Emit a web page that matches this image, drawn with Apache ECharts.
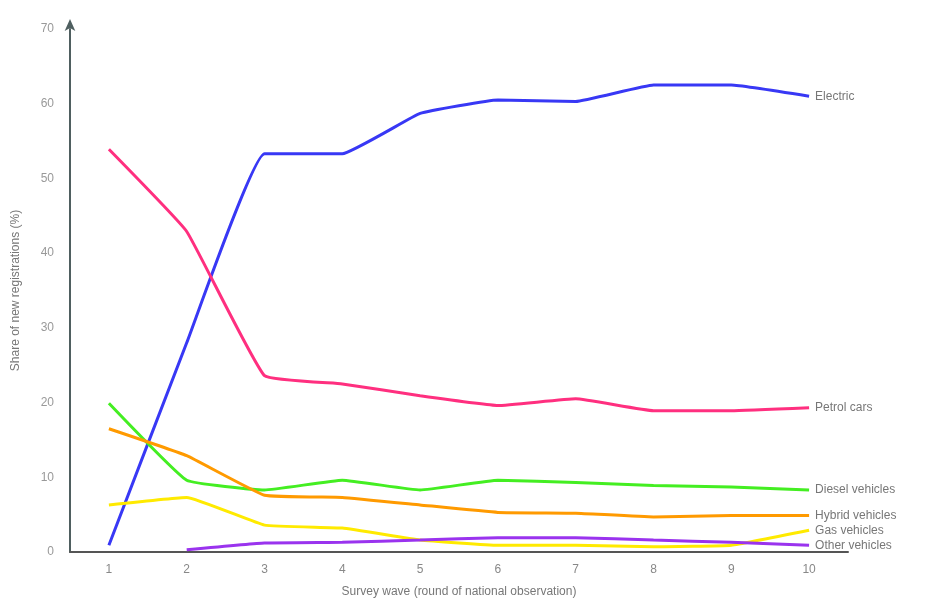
<!DOCTYPE html>
<html>
<head>
<meta charset="utf-8">
<script src="https://cdn.jsdelivr.net/npm/echarts@6/dist/echarts.min.js"></script>
<style>
html,body{margin:0;padding:0;background:#fff;}
#chart{width:942px;height:608px;}
</style>
</head>
<body>
<div id="chart"></div>
<script>
var categories = ['1', '2', '3', '4', '5', '6', '7', '8', '9', '10'];
var seriesNames = ['Electric', 'Petrol cars', 'Diesel vehicles', 'Hybrid vehicles', 'Gas vehicles', 'Other vehicles'];
var electric = [0.9, 28, 53.3, 53.3, 58.7, 60.5, 60.3, 62.5, 62.5, 61];
var petrol = [53.9, 42.9, 23.6, 22.5, 20.9, 19.6, 20.5, 18.9, 18.9, 19.3];
var diesel = [19.9, 9.6, 8.3, 9.6, 8.3, 9.6, 9.3, 8.9, 8.7, 8.3];
var hybrid = [16.5, 12.9, 7.6, 7.3, 6.3, 5.3, 5.2, 4.7, 4.9, 4.9];
var gas = [6.3, 7.3, 3.6, 3.2, 1.6, 0.9, 0.9, 0.7, 0.9, 2.9];
var other = [null, 0.3, 1.2, 1.3, 1.6, 1.9, 1.9, 1.6, 1.3, 0.9];
var colors = ['#3838f5', '#ff2f7f', '#44ee22', '#ff9a00', '#ffea00', '#9a33ee'];
var values = [electric, petrol, diesel, hybrid, gas, other];

var chart = echarts.init(document.getElementById('chart'));
chart.setOption({
  animation: false,
  grid: {left: 70, right: 94, top: 29, bottom: 56, outerBoundsMode: 'none'},
  xAxis: {
    type: 'category',
    data: categories,
    boundaryGap: true,
    name: 'Survey wave (round of national observation)',
    nameLocation: 'middle',
    nameGap: 34,
    nameTextStyle: {color: '#777', fontSize: 12},
    axisLine: {lineStyle: {color: '#555', width: 2}},
    axisTick: {show: false},
    axisLabel: {color: '#888', fontSize: 12, margin: 12}
  },
  yAxis: {
    type: 'value',
    min: 0, max: 70, interval: 10,
    name: 'Share of new registrations (%)',
    nameLocation: 'middle',
    nameGap: 48,
    nameTextStyle: {color: '#777', fontSize: 12},
    axisLine: {show: true, symbol: ['none', 'arrow'], symbolSize: [8, 12], symbolOffset: [0, 10], lineStyle: {color: '#4f5f60', width: 2}},
    axisTick: {show: false},
    splitLine: {show: false},
    axisLabel: {color: '#999', fontSize: 12, margin: 16}
  },
  series: seriesNames.map(function (n, i) {
    return {
      name: n,
      type: 'line',
      data: values[i],
      smooth: 0.1,
      symbol: 'none',
      connectNulls: false,
      lineStyle: {color: colors[i], width: 3},
      itemStyle: {color: colors[i]},
      endLabel: {show: true, formatter: '{a}', color: '#777', fontSize: 12, distance: 6},
      labelLayout: {moveOverlap: 'shiftY'}
    };
  })
});
</script>
</body>
</html>
